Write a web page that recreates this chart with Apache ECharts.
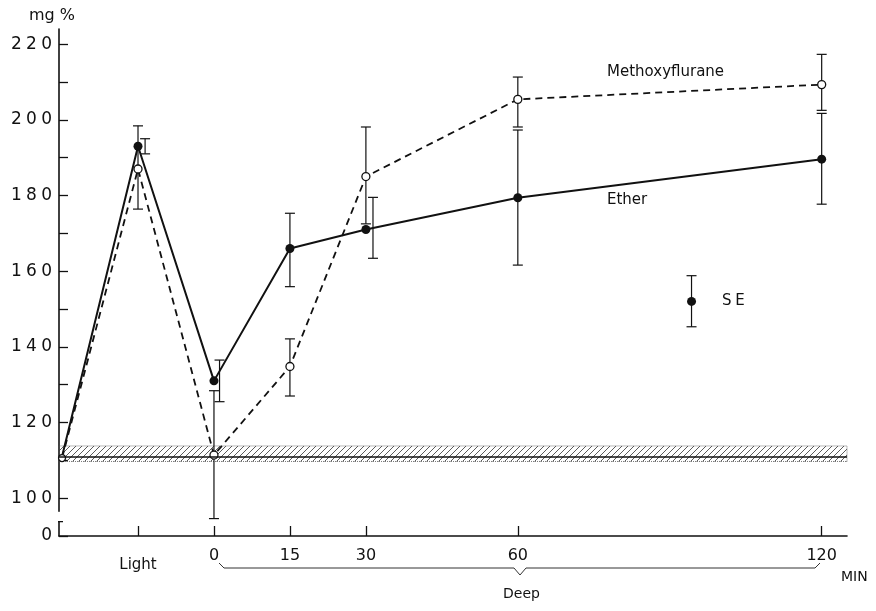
<!DOCTYPE html>
<html>
<head>
<meta charset="utf-8">
<script src="https://cdn.jsdelivr.net/npm/echarts@6/dist/echarts.min.js"></script>
<style>
  html, body { margin: 0; padding: 0; background: #fff; }
  #main { width: 876px; height: 611px; }
</style>
</head>
<body>
<div id="main"></div>
<script>
// minutes; -30 = control, -15 = light anaesthesia
var timeX = [-30, -15, 0, 15, 30, 60, 120];
var etherY = [111, 193, 131, 166, 171, 179.4, 189.6];
var methoY = [110.6, 187, 111.4, 134.8, 185, 205.4, 209.3];

// SE bars: x, low, high
var etherErrX = [-13.6, 1.1, 15, 31.4, 60, 120];
var etherErrLow = [191, 125.5, 155.9, 163.4, 161.6, 177.7];
var etherErrHigh = [195, 136.5, 175.3, 179.5, 197.3, 201.7];
var methoErrX = [-15, 0, 15, 30, 60, 120];
var methoErrLow = [176.4, 94.6, 127, 172.5, 198.1, 202.5];
var methoErrHigh = [198.4, 128.4, 142.1, 198.1, 211.3, 217.3];

// control level band
var baseline = [111];
var bandRange = [109.7, 113.8];

// SE key
var seKeyX = [94.3];
var seKeyY = [152];
var seKeyBar = [145.3, 158.8];

var xTicks = [-15, 0, 15, 30, 60, 120];
var yTicks = [90, 100, 110, 120, 130, 140, 150, 160, 170, 180, 190, 200, 210, 220];
var yLabels = [90, 100, 120, 140, 160, 180, 200, 220];

var ink = '#111';
var font = 'DejaVu Sans';

function pairs(xs, ys) {
    return xs.map(function (x, i) { return [x, ys[i]]; });
}
function triples(xs, lo, hi) {
    return xs.map(function (x, i) { return [x, lo[i], hi[i]]; });
}

// diagonal hatch for the control band
function hatch() {
    var c = document.createElement('canvas');
    c.width = 6; c.height = 6;
    var g = c.getContext('2d');
    g.strokeStyle = '#333';
    g.lineWidth = 1;
    g.beginPath();
    g.moveTo(0, 6); g.lineTo(6, 0);
    g.moveTo(-1, 1); g.lineTo(1, -1);
    g.moveTo(5, 7); g.lineTo(7, 5);
    g.stroke();
    return c;
}

function errBar(params, api) {
    var x = api.value(0);
    var top = api.coord([x, api.value(2)]);
    var bot = api.coord([x, api.value(1)]);
    var w = 5;
    var st = { stroke: ink, lineWidth: 1.2 };
    return {
        type: 'group',
        children: [
            { type: 'line', shape: { x1: top[0], y1: top[1], x2: bot[0], y2: bot[1] }, style: st },
            { type: 'line', shape: { x1: top[0] - w, y1: top[1], x2: top[0] + w, y2: top[1] }, style: st },
            { type: 'line', shape: { x1: bot[0] - w, y1: bot[1], x2: bot[0] + w, y2: bot[1] }, style: st }
        ]
    };
}

var etherData = pairs(timeX, etherY).map(function (p, i) {
    return i === 0 ? { value: p, symbolSize: 3 } : p;
});
var methoData = pairs(timeX, methoY).map(function (p, i) {
    return i === 0 ? { value: p, symbolSize: 7 } : p;
});

var myChart = echarts.init(document.getElementById('main'));

var option = {
    animation: false,
    backgroundColor: '#fff',
    grid: { left: 59, right: 29, top: 29, bottom: 75 },
    xAxis: {
        type: 'value',
        min: -30.6,
        max: 125,
        axisLine: { onZero: false, lineStyle: { color: ink, width: 1.6 } },
        axisTick: { inside: true, length: 10, customValues: xTicks, lineStyle: { color: ink, width: 1.3 } },
        axisLabel: {
            customValues: xTicks,
            color: ink,
            fontFamily: font,
            fontSize: 16,
            margin: 12,
            formatter: function (v) { return v === -15 ? '{l|Light}' : String(v); },
            rich: { l: { fontFamily: font, fontSize: 15, color: ink, padding: [10, 0, 0, 0] } }
        },
        splitLine: { show: false }
    },
    yAxis: {
        type: 'value',
        min: 90,
        max: 224,
        axisLine: { onZero: false, lineStyle: { color: ink, width: 1.6 } },
        axisTick: { inside: true, length: 9, customValues: yTicks, lineStyle: { color: ink, width: 1.3 } },
        axisLabel: {
            customValues: yLabels,
            color: ink,
            fontFamily: font,
            fontSize: 17,
            margin: 7,
            formatter: function (v) { return v === 90 ? '0' : String(v).split('').join('\u2005'); }
        },
        splitLine: { show: false }
    },
    series: [
        {
            name: 'band',
            type: 'line',
            data: [],
            markArea: {
                silent: true,
                itemStyle: {
                    color: { image: hatch(), repeat: 'repeat' },
                    opacity: 0.8,
                    borderColor: '#555',
                    borderWidth: 1,
                    borderType: 'dotted'
                },
                data: [[{ yAxis: bandRange[0] }, { yAxis: bandRange[1] }]]
            },
            markLine: {
                silent: true,
                symbol: 'none',
                label: { show: false },
                lineStyle: { color: ink, width: 1.5, type: 'solid' },
                data: [{ yAxis: baseline[0] }]
            }
        },
        {
            name: 'Ether SE',
            type: 'custom',
            renderItem: errBar,
            encode: { x: 0, y: [1, 2] },
            data: triples(etherErrX, etherErrLow, etherErrHigh),
            z: 1
        },
        {
            name: 'Methoxyflurane SE',
            type: 'custom',
            renderItem: errBar,
            encode: { x: 0, y: [1, 2] },
            data: triples(methoErrX, methoErrLow, methoErrHigh),
            z: 1
        },
        {
            name: 'Ether',
            type: 'line',
            data: etherData,
            symbol: 'circle',
            symbolSize: 9,
            itemStyle: { color: ink },
            lineStyle: { color: ink, width: 2 },
            z: 3
        },
        {
            name: 'Methoxyflurane',
            type: 'line',
            data: methoData,
            symbol: 'circle',
            symbolSize: 8,
            itemStyle: { color: '#fff', borderColor: ink, borderWidth: 1.3 },
            lineStyle: { color: ink, width: 1.8, type: [7, 5] },
            z: 4
        },
        {
            name: 'SE key bar',
            type: 'custom',
            renderItem: errBar,
            encode: { x: 0, y: [1, 2] },
            data: [[seKeyX[0], seKeyBar[0], seKeyBar[1]]],
            z: 1
        },
        {
            name: 'SE key',
            type: 'scatter',
            data: [[seKeyX[0], seKeyY[0]]],
            symbolSize: 9,
            itemStyle: { color: ink, opacity: 1 },
            label: {
                show: true,
                position: 'right',
                distance: 26,
                formatter: 'S\u2005E',
                color: ink,
                opacity: 1,
                fontFamily: font,
                fontSize: 15
            },
            z: 3
        }
    ],
    graphic: [
        { id: 'unit', type: 'text', left: 29, top: 8, style: { text: 'mg %', fill: ink, font: '16px "DejaVu Sans"' } },
        { id: 'metho', type: 'text', left: 607, top: 65, style: { text: 'Methoxyflurane', fill: ink, font: '15px "DejaVu Sans"' } },
        { id: 'ether', type: 'text', left: 607, top: 193, style: { text: 'Ether', fill: ink, font: '15px "DejaVu Sans"' } },
        { id: 'min', type: 'text', left: 841, top: 570, style: { text: 'MIN', fill: ink, font: '14px "DejaVu Sans"' } },
        { id: 'deep', type: 'text', left: 503, top: 587, style: { text: 'Deep', fill: ink, font: '14px "DejaVu Sans"' } },
        {
            id: 'brace',
            type: 'polyline',
            shape: { points: [[219, 563], [224, 568], [514, 568], [520, 575], [526, 568], [815, 568], [820, 563]] },
            style: { stroke: '#333', lineWidth: 1, fill: null }
        }
    ]
};

myChart.setOption(option);

// break mark on the y axis
var gapTop = myChart.convertToPixel({ xAxisIndex: 0, yAxisIndex: 0 }, [-30.6, 96.4]);
var gapBot = myChart.convertToPixel({ xAxisIndex: 0, yAxisIndex: 0 }, [-30.6, 93.8]);
myChart.setOption({
    graphic: [
        { id: 'gap', type: 'rect', z: 100, shape: { x: gapTop[0] - 3, y: gapTop[1], width: 6, height: gapBot[1] - gapTop[1] }, style: { fill: '#fff' } },
        { id: 'gapTick', type: 'line', z: 101, shape: { x1: gapBot[0] - 1, y1: gapBot[1], x2: gapBot[0] + 4, y2: gapBot[1] }, style: { stroke: ink, lineWidth: 1.3 } }
    ]
});
</script>
</body>
</html>
